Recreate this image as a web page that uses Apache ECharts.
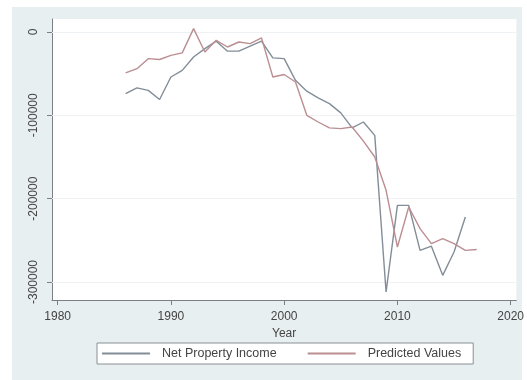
<!DOCTYPE html>
<html>
<head>
<meta charset="utf-8">
<script src="https://cdn.jsdelivr.net/npm/echarts@6/dist/echarts.min.js"></script>
<style>
html,body{margin:0;padding:0;background:#fff;}
#main{width:527px;height:380px;}
</style>
</head>
<body>
<div id="main"></div>
<script>
var years = [1986,1987,1988,1989,1990,1991,1992,1993,1994,1995,1996,1997,1998,1999,2000,2001,
	2002,2003,2004,2005,2006,2007,2008,2009,2010,2011,2012,2013,2014,2015,2016,2017];
var netPropertyIncome = [-74000,-67000,-70000,-81000,-54000,-46000,-30000,-20000,-11000,-23000,-23000,-17000,
	-11000,-31000,-32000,-58000,-71000,-79000,-86000,-97000,-115000,-108000,-124000,-312000,
	-208000,-208000,-262000,-257000,-292000,-264000,-222000,null];
var predictedValues = [-49000,-44000,-32000,-33000,-28000,-25000,4000,-24000,-10000,-18000,-12000,-14000,
	-7000,-54000,-51000,-60000,-100000,-108000,-115000,-116000,-114000,-131000,-150000,-190000,
	-258000,-210000,-236000,-254000,-248000,-254000,-262000,-261000];
var xTicks = [1980,1990,2000,2010,2020];
var yTicks = [0,-100000,-200000,-300000];

function pairs(vals){
	var out = [];
	for(var i=0;i<years.length;i++){
		out.push([years[i], vals[i]]);
	}
	return out;
}

var gridLines = [];
for(var i=0;i<yTicks.length;i++){
	gridLines.push({yAxis:yTicks[i]});
}

var myChart = echarts.init(document.getElementById('main'));
var font = 'Liberation Sans, Arial, sans-serif';

var option = {
	animation:false,
	backgroundColor:'#fff',
	graphic:[{
		type:'rect', z:-10,
		shape:{x:12,y:7,width:510,height:373},
		style:{fill:'#e8eff1'}
	}],
	grid:{
		left:52, right:9, top:19, bottom:80,
		show:true, backgroundColor:'#fff', borderWidth:0
	},
	legend:{
		left:97, top:343,
		icon:'rect', itemWidth:48, itemHeight:2, itemGap:31,
		padding:[4,12,4,5],
		backgroundColor:'#fff', borderColor:'#8a9096', borderWidth:1,
		textStyle:{fontFamily:font, fontSize:12.5, color:'#444', padding:[0,0,0,7]},
		data:['Net Property Income','Predicted Values']
	},
	xAxis:{
		type:'value', min:1979.5, max:2020.5,
		name:'Year', nameLocation:'middle', nameGap:20,
		nameTextStyle:{fontFamily:font, fontSize:12, color:'#444'},
		axisLine:{onZero:false, lineStyle:{color:'#7a7f85'}},
		axisTick:{customValues:xTicks, length:5, lineStyle:{color:'#7a7f85'}},
		axisLabel:{customValues:xTicks, margin:11, fontFamily:font, fontSize:12, color:'#444',
			formatter:function(v){return String(v);}},
		splitLine:{show:false}
	},
	yAxis:{
		type:'value', min:-321600, max:15600,
		axisLine:{show:true, lineStyle:{color:'#7a7f85'}},
		axisTick:{show:true, customValues:yTicks, length:5, lineStyle:{color:'#7a7f85'}},
		axisLabel:{customValues:yTicks, rotate:90, margin:12, fontFamily:font, fontSize:12, color:'#444',
			formatter:function(v){return String(v);}},
		splitLine:{show:false}
	},
	series:[{
		name:'Net Property Income',
		type:'line',
		data:pairs(netPropertyIncome),
		showSymbol:false, symbol:'none',
		itemStyle:{color:'#838d98'},
		lineStyle:{color:'#838d98', width:1.4},
		markLine:{
			silent:true, symbol:'none', label:{show:false},
			lineStyle:{color:'#eef2f4', width:1, type:'solid'},
			z:1,
			data:gridLines
		}
	},{
		name:'Predicted Values',
		type:'line',
		data:pairs(predictedValues),
		showSymbol:false, symbol:'none',
		itemStyle:{color:'#bb8e92'},
		lineStyle:{color:'#bb8e92', width:1.4}
	}]
};

myChart.setOption(option);
</script>
</body>
</html>
